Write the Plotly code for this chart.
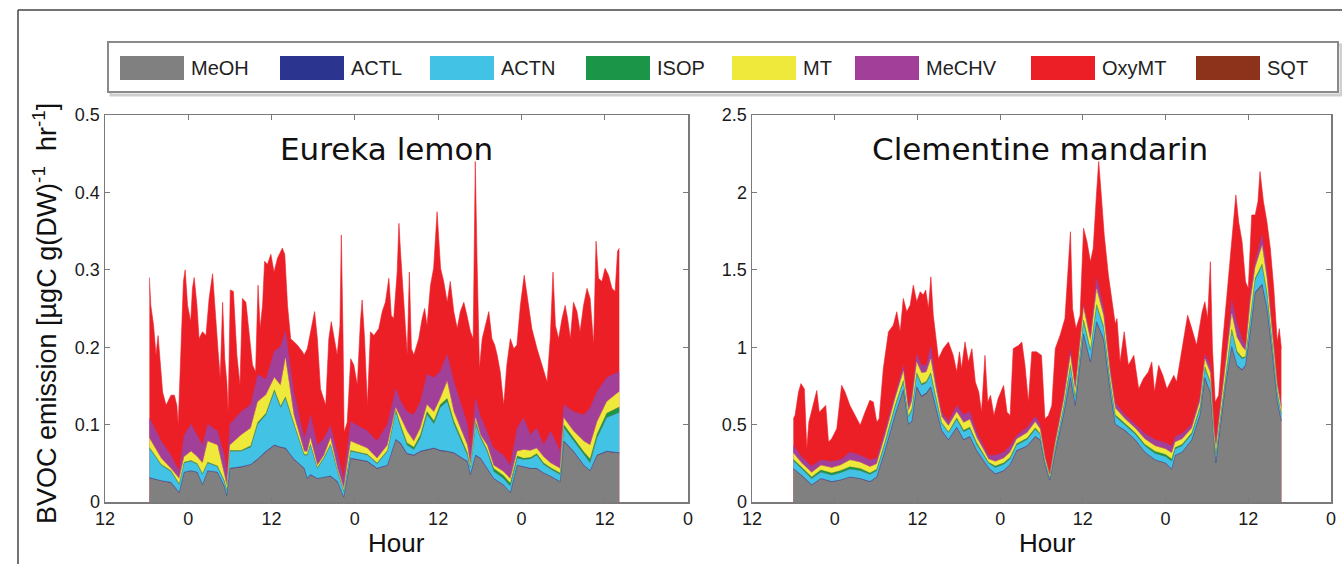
import plotly.graph_objects as go

# ---------------- data ----------------
species = ["MeOH", "ACTL", "ACTN", "ISOP", "MT", "MeCHV", "OxyMT", "SQT"]
colors = ["#808080", "#2b3590", "#42c3e6", "#1b9548", "#efe93b", "#a23f99", "#ec1f26", "#8d321b"]

hour_ticks = [0, 12, 24, 36, 48, 60, 72, 84]
hour_labels = ["12", "0", "12", "0", "12", "0", "12", "0"]

# ---- Eureka lemon : lower layers (hours since first "12" tick) ----
lemon_t = [6.4, 8.1, 9.5, 10.7, 11.4, 12.4, 13.3, 14.05, 14.8, 16.2,
           17.2, 17.55, 18.0, 19.6, 21.0, 22.0, 23.2, 24.4, 25.3, 26.0,
           27.2, 28.7, 29.15, 29.6, 30.6, 31.55, 32.5, 33.5, 34.4, 35.4,
           37.8, 39.2, 40.7, 41.9, 42.6, 43.5, 44.5, 45.45, 46.4, 47.4,
           48.3, 49.3, 50.25, 52.2, 52.65, 53.4, 54.1, 55.05, 56.0, 57.4,
           58.4, 59.4, 60.3, 61.3, 62.2, 63.2, 64.2, 65.6, 66.1, 67.5,
           69.0, 69.9, 70.9, 72.3, 74.1]
lemon_meoh = [.031, .027, .025, .012, .038, .040, .038, .022, .040, .038,
              .020, .008, .043, .045, .048, .055, .065, .073, .070, .069,
              .055, .043, .030, .035, .030, .032, .033, .026, .006, .056,
              .052, .043, .047, .080, .075, .062, .060, .065, .067, .069,
              .066, .065, .063, .052, .035, .060, .056, .043, .030, .022,
              .012, .047, .045, .043, .043, .037, .033, .026, .078, .065,
              .047, .040, .060, .065, .063]
lemon_actl = [.0005, .0005, .0004, .0003, .0005, .0005, .0005, .0004, .0005, .0005,
              .0003, .0002, .0005, .0005, .0006, .0006, .0007, .0008, .0008, .0008,
              .0006, .0005, .0004, .0005, .0004, .0004, .0005, .0004, .0002, .0006,
              .0006, .0005, .0005, .0008, .0008, .0007, .0006, .0007, .0007, .0007,
              .0007, .0007, .0007, .0006, .0004, .0006, .0006, .0005, .0004, .0003,
              .0002, .0005, .0005, .0005, .0005, .0004, .0004, .0003, .0008, .0007,
              .0005, .0005, .0006, .0007, .0007]
lemon_actn = [.038, .020, .014, .010, .012, .012, .010, .013, .010, .007,
              .006, .006, .022, .020, .022, .045, .047, .069, .051, .064,
              .045, .017, .030, .038, .013, .024, .040, .013, .007, .009,
              .008, .006, .018, .036, .020, .011, .007, .017, .045, .031,
              .055, .064, .037, .008, .008, .040, .026, .022, .009, .008,
              .008, .009, .009, .012, .017, .011, .009, .009, .017, .013,
              .013, .010, .022, .043, .052]
lemon_isop = [.001, .001, .001, .001, .001, .001, .001, .001, .001, .001,
              .001, .001, .001, .001, .002, .002, .002, .002, .002, .002,
              .001, .001, .001, .001, .001, .001, .001, .001, .001, .001,
              .001, .001, .001, .002, .003, .003, .003, .004, .004, .004,
              .004, .004, .004, .003, .002, .003, .002, .002, .004, .004,
              .004, .003, .002, .002, .002, .002, .002, .002, .004, .004,
              .004, .005, .005, .006, .007]
lemon_mt = [.012, .008, .003, .007, .007, .012, .009, .014, .027, .027,
            .008, .005, .007, .020, .023, .027, .024, .016, .027, .050,
            .011, .004, .004, .008, .003, .003, .008, .003, .003, .012,
            .008, .006, .007, .003, .010, .015, .008, .009, .009, .012,
            .008, .022, .012, .010, .002, .005, .002, .006, .004, .005,
            .006, .006, .011, .009, .007, .008, .006, .006, .009, .009,
            .014, .018, .016, .015, .020]
lemon_mechv = [.026, .022, .017, .009, .027, .035, .027, .023, .022, .018,
               .025, .015, .027, .030, .030, .035, .020, .034, .050, .035,
               .030, .017, .030, .030, .026, .022, .016, .017, .013, .025,
               .022, .022, .027, .025, .021, .025, .034, .034, .039, .044,
               .035, .035, .039, .027, .018, .025, .024, .017, .022, .021,
               .017, .030, .041, .020, .026, .015, .041, .022, .017, .025,
               .034, .048, .039, .031, .026]
# top of the stack (OxyMT upper edge)
lemon_top_t = [6.4, 6.6, 7.0, 7.35, 7.65, 7.95, 8.3, 8.8, 9.5, 10.0,
               10.35, 10.55, 10.95, 11.3, 11.55, 11.9, 12.35, 12.6, 12.85, 13.25,
               13.55, 14.05, 14.55, 15.0, 15.5, 15.8, 16.3, 16.6, 16.95, 17.25,
               17.55, 17.75, 18.05, 18.5, 19.0, 19.45, 19.8, 20.3, 20.75, 21.25,
               21.7, 22.05, 22.35, 22.7, 23.0, 23.4, 23.9, 24.35, 24.85, 25.55,
               25.9, 26.3, 26.75, 27.7, 28.45, 28.7, 29.15, 29.85, 30.2, 30.6,
               31.05, 31.8, 32.25, 32.6, 33.0, 33.45, 33.85, 34.05, 34.3, 34.45,
               34.9, 35.4, 35.85, 36.35, 36.8, 37.05, 37.4, 37.8, 38.25, 38.75,
               39.45, 39.95, 40.4, 40.9, 41.25, 41.6, 42.1, 42.35, 42.6, 43.05,
               43.55, 43.85, 44.15, 44.5, 45.2, 45.7, 46.05, 46.4, 46.9, 47.35,
               47.85, 48.35, 48.8, 49.3, 49.75, 50.25, 50.75, 51.2, 51.7, 52.15,
               52.65, 53.05, 53.35, 53.6, 53.95, 54.35, 54.8, 55.3, 55.75, 56.15,
               56.5, 56.95, 57.45, 57.9, 58.4, 58.9, 59.35, 59.85, 60.4, 61.05,
               61.5, 62.25, 62.95, 63.7, 64.15, 64.55, 64.9, 65.35, 65.85, 66.3,
               66.65, 67.05, 67.5, 68.0, 68.45, 68.95, 69.45, 69.9, 70.4, 70.75,
               71.1, 71.6, 72.05, 72.55, 73.05, 73.5, 73.85, 74.1]
lemon_top = [.290, .254, .228, .190, .215, .177, .142, .125, .138, .138,
             .125, .100, .190, .285, .300, .254, .233, .276, .290, .254,
             .211, .220, .215, .263, .295, .254, .194, .160, .258, .185,
             .155, .116, .274, .272, .190, .151, .263, .258, .215, .177,
             .168, .280, .224, .254, .311, .307, .320, .297, .315, .328,
             .320, .254, .211, .203, .194, .190, .198, .228, .246, .211,
             .146, .125, .211, .233, .215, .190, .228, .345, .211, .090,
             .103, .185, .177, .151, .233, .261, .211, .125, .220, .215,
             .224, .246, .258, .289, .241, .237, .297, .360, .320, .254,
             .190, .297, .198, .190, .211, .237, .250, .228, .280, .302,
             .375, .302, .285, .258, .285, .246, .224, .246, .258, .241,
             .220, .211, .440, .315, .172, .211, .228, .246, .211, .203,
             .190, .168, .125, .177, .211, .198, .203, .254, .293, .254,
             .224, .198, .177, .155, .211, .297, .228, .211, .237, .254,
             .237, .211, .258, .246, .220, .254, .276, .263, .203, .337,
             .289, .285, .302, .293, .276, .272, .324, .328]

# ---- Clementine mandarin : lower layers ----
mand_t = [6.0, 7.2, 8.66, 10.0, 11.56, 12.8, 14.22, 15.68, 17.13, 18.1,
          19.3, 20.76, 21.96, 22.7, 23.2, 23.9, 24.6, 25.3, 25.93, 26.6,
          27.5, 28.5, 29.7, 30.7, 31.6, 32.6, 33.6, 34.3, 35.3, 36.5,
          37.45, 38.4, 39.9, 41.1, 41.8, 42.5, 43.2, 44.0, 45.2, 46.2,
          46.9, 48.1, 49.1, 50.0, 51.0, 52.0, 52.7, 54.1, 55.6, 57.0,
          58.5, 60.0, 60.9, 61.4, 62.4, 63.8, 65.0, 65.7, 66.5, 67.0,
          67.3, 67.7, 68.7, 69.6, 70.35, 71.1, 71.6, 72.3, 73.0, 74.0,
          74.7, 75.5, 76.2, 76.8]
mand_meoh = [.214, .17, .11, .15, .13, .14, .16, .15, .13, .16,
             .33, .56, .72, .50, .52, .74, .68, .70, .74, .62,
             .46, .40, .48, .40, .42, .33, .27, .22, .18, .20,
             .24, .33, .36, .42, .40, .24, .14, .32, .56, .80,
             .62, 1.08, .90, 1.16, 1.05, .70, .50, .46, .40, .32,
             .27, .25, .21, .30, .32, .40, .56, .80, .70, .40,
             .25, .40, .75, 1.0, .88, .85, .88, 1.10, 1.35, 1.40,
             1.25, .95, .65, .52]
mand_actl = [.002, .002, .001, .002, .002, .002, .002, .002, .002, .002,
             .003, .003, .004, .003, .003, .004, .004, .004, .004, .003,
             .003, .002, .003, .003, .003, .002, .002, .002, .002, .002,
             .002, .002, .002, .003, .002, .002, .001, .002, .003, .004,
             .003, .005, .004, .005, .005, .004, .003, .003, .002, .002,
             .002, .002, .002, .002, .002, .002, .003, .004, .004, .002,
             .002, .003, .004, .005, .004, .004, .004, .005, .005, .006,
             .005, .004, .003, .003]
mand_actn = [.05, .04, .04, .04, .04, .045, .05, .05, .045, .04,
             .045, .05, .05, .045, .07, .08, .07, .065, .08, .06,
             .045, .045, .05, .05, .05, .04, .03, .03, .04, .04,
             .035, .035, .04, .045, .035, .02, .015, .03, .045, .07,
             .05, .08, .07, .10, .07, .055, .05, .035, .035, .04,
             .04, .04, .05, .04, .04, .035, .04, .06, .06, .035,
             .05, .05, .06, .10, .08, .07, .05, .09, .08, .12,
             .09, .06, .05, .04]
mand_isop = [.01, .01, .01, .015, .015, .015, .015, .015, .01, .01,
             .01, .01, .01, .005, .01, .01, .01, .01, .01, .01,
             .005, .005, .01, .01, .01, .01, .01, .005, .01, .01,
             .01, .01, .01, .01, .005, .005, .003, .005, .005, .01,
             .005, .01, .01, .01, .01, .01, .01, .01, .01, .01,
             .015, .015, .015, .01, .01, .01, .01, .01, .01, .005,
             .01, .01, .01, .01, .01, .01, .005, .01, .01, .01,
             .01, .01, .01, .005]
mand_mt = [.04, .03, .03, .03, .035, .035, .045, .04, .04, .035,
           .04, .045, .06, .035, .05, .07, .07, .06, .09, .06,
           .04, .04, .04, .05, .05, .035, .025, .02, .03, .03,
           .035, .03, .035, .04, .03, .02, .012, .025, .04, .06,
           .045, .08, .06, .10, .07, .05, .045, .03, .03, .035,
           .035, .035, .04, .035, .035, .03, .04, .05, .06, .035,
           .04, .05, .06, .10, .09, .07, .04, .09, .07, .12,
           .09, .06, .04, .035]
mand_mechv = [.05, .04, .04, .035, .04, .035, .05, .045, .045, .035,
              .035, .035, .04, .035, .05, .05, .05, .045, .08, .05,
              .03, .03, .04, .05, .05, .035, .025, .025, .04, .04,
              .04, .025, .035, .035, .03, .015, .01, .02, .03, .04,
              .03, .02, .03, .07, .05, .035, .035, .025, .025, .035,
              .04, .04, .045, .035, .035, .025, .03, .03, .05, .025,
              .03, .04, .04, .09, .09, .05, .025, .06, .04, .07,
              .06, .04, .03, .02]
mand_top_t = [6.0, 6.25, 6.75, 7.1, 7.6, 7.95, 8.25, 8.9, 9.4, 9.75,
              10.2, 10.7, 11.1, 11.55, 12.3, 13.0, 13.5, 14.2, 14.95, 15.7,
              16.4, 17.1, 17.6, 18.1, 18.45, 19.05, 19.8, 20.5, 21.0, 21.5,
              21.95, 22.45, 22.95, 23.4, 23.9, 24.4, 24.85, 25.2, 25.6, 25.95,
              26.3, 27.05, 27.75, 28.5, 29.2, 29.7, 30.1, 30.4, 30.9, 31.4,
              31.9, 32.4, 32.9, 33.3, 33.8, 34.2, 34.6, 35.1, 35.7, 36.5,
              37.0, 37.45, 37.9, 38.7, 39.15, 39.6, 40.1, 40.6, 41.3, 42.0,
              42.5, 43.0, 43.5, 44.0, 44.7, 45.4, 46.2, 46.5, 47.0, 47.6,
              48.1, 48.6, 49.1, 49.5, 50.0, 50.3, 50.6, 51.1, 51.7, 52.2,
              52.7, 52.95, 53.4, 54.0, 54.6, 55.4, 56.1, 56.8, 57.5, 58.0,
              58.4, 59.0, 59.6, 60.2, 60.7, 61.2, 61.6, 62.1, 62.8, 63.2,
              63.8, 64.5, 65.3, 65.7, 66.1, 66.5, 66.8, 67.2, 67.7, 68.2,
              68.9, 69.6, 70.2, 70.6, 71.1, 71.6, 72.0, 72.5, 73.0, 73.4,
              73.7, 74.2, 74.7, 75.2, 75.7, 76.2, 76.5, 76.8]
mand_top = [.538, .560, .710, .765, .730, .343, .516, .624, .720, .580,
            .600, .624, .387, .408, .473, .754, .710, .624, .560, .495,
            .580, .657, .646, .516, .538, .862, 1.099, 1.142, 1.229, 1.099,
            1.315, 1.229, 1.272, 1.401, 1.294, 1.358, 1.337, 1.369, 1.250, 1.455,
            1.207, .926, .991, 1.034, .947, .840, .970, .861, 1.034, .905,
            .990, .775, .710, .580, .947, .645, .689, .559, .667, .753,
            .580, .559, .991, 1.012, 1.034, .883, .645, .970, .970, .947,
            .537, .559, .624, .991, 1.077, 1.185, 1.746, 1.250, 1.120, 1.207,
            1.768, 1.681, 1.552, 1.638, 2.005, 2.200, 2.027, 1.724, 1.466, 1.293,
            1.150, 1.185, .905, 1.100, .883, .947, .730, .797, .840, .905,
            .710, .883, .818, .730, .775, .818, .775, .905, 1.077, 1.207,
            1.120, 1.012, 1.228, 1.293, 1.185, 1.552, .991, .645, .689, .991,
            1.336, 1.660, 1.984, 1.811, 1.681, 1.422, 1.379, 1.854, 1.854, 1.940,
            2.135, 1.940, 1.811, 1.638, 1.379, 1.034, 1.120, .991]

panels = [
    dict(name="Eureka lemon", t=lemon_t, top_t=lemon_top_t, top=lemon_top,
         layers=[lemon_meoh, lemon_actl, lemon_actn, lemon_isop, lemon_mt, lemon_mechv],
         ymax=0.5, dtick=0.1),
    dict(name="Clementine mandarin", t=mand_t, top_t=mand_top_t, top=mand_top,
         layers=[mand_meoh, mand_actl, mand_actn, mand_isop, mand_mt, mand_mechv],
         ymax=2.5, dtick=0.5),
]

# ---------------- figure ----------------
W, H = 1342, 564


def fx(px):
    return px / W


def fy(py):
    return 1 - py / H


x_domains = [[fx(105), fx(688)], [fx(752), fx(1331)]]
y_domain = [fy(502), fy(115)]

fig = go.Figure()
for i, p in enumerate(panels):
    xa = "x" if i == 0 else "x2"
    ya = "y" if i == 0 else "y2"
    # OxyMT: red envelope up to the top of the stack
    fig.add_trace(go.Scatter(x=p["top_t"], y=p["top"], mode="lines", fill="tozeroy",
                             fillcolor=colors[6], line=dict(width=0.6, color=colors[6]),
                             name=species[6], xaxis=xa, yaxis=ya, showlegend=False,
                             hoverinfo="skip"))
    # lower layers, stacked
    for j, vals in enumerate(p["layers"]):
        fig.add_trace(go.Scatter(x=p["t"], y=vals, mode="lines", stackgroup="s%d" % i,
                                 fillcolor=colors[j], line=dict(width=0.4, color=colors[j]),
                                 name=species[j], xaxis=xa, yaxis=ya, showlegend=False,
                                 hoverinfo="skip"))

axis_common = dict(showline=True, linecolor="#7a7a7a", linewidth=1.5, mirror="ticks",
                   ticks="inside", ticklen=5, tickcolor="#7a7a7a", tickwidth=1.2,
                   showgrid=False, zeroline=False, automargin=False,
                   tickfont=dict(family="Liberation Sans", size=18, color="#1a1a1a"))

fig.update_layout(
    template="none",
    width=W, height=H, autosize=False,
    margin=dict(l=0, r=0, t=0, b=0, pad=0, autoexpand=False),
    paper_bgcolor="white", plot_bgcolor="white", showlegend=False,
    xaxis=dict(domain=x_domains[0], range=[0, 84], tickvals=hour_ticks, ticktext=hour_labels,
               anchor="y", **axis_common),
    yaxis=dict(domain=y_domain, range=[0, panels[0]["ymax"]], dtick=panels[0]["dtick"],
               anchor="x", **axis_common),
    xaxis2=dict(domain=x_domains[1], range=[0, 84], tickvals=hour_ticks, ticktext=hour_labels,
                anchor="y2", **axis_common),
    yaxis2=dict(domain=y_domain, range=[0, panels[1]["ymax"]], dtick=panels[1]["dtick"],
                anchor="x2", **axis_common),
)

ann = []
# panel titles
ann.append(dict(text=panels[0]["name"], x=fx(386), y=fy(149), xref="paper", yref="paper",
                showarrow=False, xanchor="center", yanchor="middle",
                font=dict(family="DejaVu Sans", size=31, color="#111")))
ann.append(dict(text=panels[1]["name"], x=fx(1040), y=fy(149), xref="paper", yref="paper",
                showarrow=False, xanchor="center", yanchor="middle",
                font=dict(family="DejaVu Sans", size=31, color="#111")))
# x titles
for cx in (396, 1047):
    ann.append(dict(text="Hour", x=fx(cx), y=fy(543), xref="paper", yref="paper",
                    showarrow=False, xanchor="center", yanchor="middle",
                    font=dict(family="Liberation Sans", size=26, color="#111")))
# y title
ann.append(dict(text="BVOC emission [µgC g(DW)<sup>-1</sup>  hr<sup>-1</sup>]",
                x=fx(45), y=fy(314), xref="paper", yref="paper", textangle=-90,
                showarrow=False, xanchor="center", yanchor="middle",
                font=dict(family="Liberation Sans", size=27, color="#111")))

shapes = []
# outer figure frame (top and left)
shapes.append(dict(type="line", xref="paper", yref="paper", x0=fx(18), x1=1, y0=fy(10), y1=fy(10),
                   line=dict(color="#444", width=1.5)))
shapes.append(dict(type="line", xref="paper", yref="paper", x0=fx(18), x1=fx(18), y0=0, y1=fy(10),
                   line=dict(color="#444", width=1.5)))
# legend box with soft shadow
shapes.append(dict(type="rect", xref="paper", yref="paper", x0=fx(111), x1=fx(1341), y0=fy(95), y1=fy(45),
                   line=dict(color="#cfcfcf", width=3), fillcolor="rgba(0,0,0,0)", layer="below"))
shapes.append(dict(type="rect", xref="paper", yref="paper", x0=fx(108), x1=fx(1338), y0=fy(92), y1=fy(42),
                   line=dict(color="#8a8a8a", width=2), fillcolor="white"))
legend_x = [120, 280, 430, 586, 732, 855, 1031, 1196]
for k, name in enumerate(species):
    x0 = legend_x[k]
    shapes.append(dict(type="rect", xref="paper", yref="paper", x0=fx(x0), x1=fx(x0 + 64),
                       y0=fy(80), y1=fy(56), line=dict(width=0), fillcolor=colors[k]))
    ann.append(dict(text=name, x=fx(x0 + 69), y=fy(68), xref="paper", yref="paper",
                    showarrow=False, xanchor="left", yanchor="middle",
                    font=dict(family="Liberation Sans", size=20, color="#222")))

fig.update_layout(annotations=ann, shapes=shapes)
fig.write_html("out.html",
               config={"displayModeBar": False, "staticPlot": True},
               post_script="document.body.style.margin='0px';"
                           "document.documentElement.style.overflow='hidden';")
